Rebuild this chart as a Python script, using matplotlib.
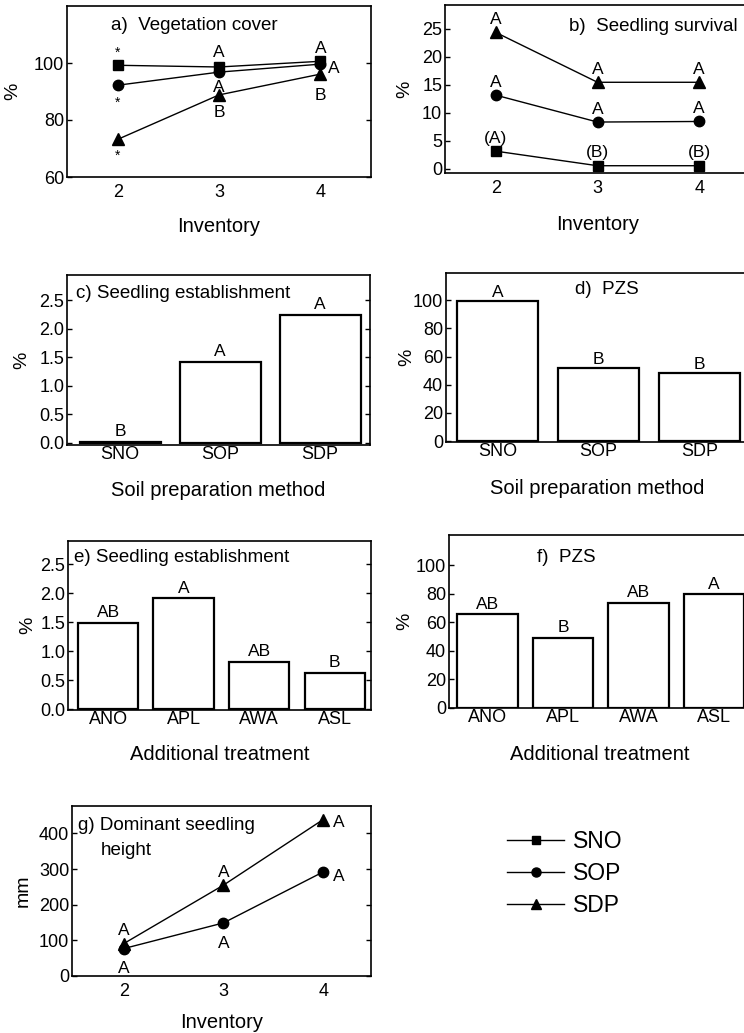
import matplotlib
matplotlib.use("Agg")
import matplotlib.pyplot as plt
from matplotlib.lines import Line2D

plt.rcParams['font.family'] = ['Liberation Sans', 'DejaVu Sans']

W, H = 744, 1033

# --- data ---------------------------------------------------------------
inventory = [2, 3, 4]
series = ['SNO', 'SOP', 'SDP']
markers = {'SNO': 's', 'SOP': 'o', 'SDP': '^'}
msizes = {'SNO': 6.5, 'SOP': 7.5, 'SDP': 8.5}

cover = {'SNO': [99.2, 98.6, 100.6], 'SOP': [92.2, 96.8, 99.6], 'SDP': [73.2, 88.8, 96.1]}
cover_letters = {'SNO': ['*', 'A', 'A'], 'SOP': ['*', 'A', 'A'], 'SDP': ['*', 'B', 'B']}

survival = {'SNO': [3.1, 0.5, 0.5], 'SOP': [13.1, 8.3, 8.4], 'SDP': [24.3, 15.4, 15.4]}
survival_letters = {'SNO': ['(A)', '(B)', '(B)'], 'SOP': ['A', 'A', 'A'], 'SDP': ['A', 'A', 'A']}

soil_methods = ['SNO', 'SOP', 'SDP']
soil_establ = [0.02, 1.42, 2.24]
soil_establ_letters = ['B', 'A', 'A']
soil_pzs = [99.5, 51.8, 48.3]
soil_pzs_letters = ['A', 'B', 'B']

treatments = ['ANO', 'APL', 'AWA', 'ASL']
treat_establ = [1.49, 1.91, 0.82, 0.63]
treat_establ_letters = ['AB', 'A', 'AB', 'B']
treat_pzs = [65.4, 49.0, 73.6, 79.7]
treat_pzs_letters = ['AB', 'B', 'AB', 'A']

height = {'SOP': [77, 149, 292], 'SDP': [91, 255, 439]}
height_letters = {'SOP': ['A', 'A', 'A'], 'SDP': ['A', 'A', 'A']}

fig = plt.figure(figsize=(W / 100, H / 100), dpi=100)


def add_ax(left, top, right, bottom):
    ax = fig.add_axes([left / W, 1 - bottom / H, (right - left) / W, (bottom - top) / H])
    for s in ax.spines.values():
        s.set_linewidth(1.2)
    ax.tick_params(axis='y', direction='in', length=3.5, width=1, right=True,
                   labelsize=13, pad=2)
    ax.tick_params(axis='x', length=0, labelsize=13, pad=5)
    return ax


def px(v):
    return v / 1.389


def set_labels(ax, xlabel, ylabel, xdist, ydist, w, h):
    ax.set_xlabel(xlabel, fontsize=14.5)
    ax.xaxis.label.set_verticalalignment('center')
    ax.xaxis.set_label_coords(0.5, -xdist / h)
    ax.set_ylabel(ylabel, fontsize=14)
    ax.yaxis.label.set_verticalalignment('center')
    ax.yaxis.set_label_coords(-ydist / w, 0.5)


def letter(ax, txt, x, y, dx, dy, size=12.5):
    ax.annotate(txt, (x, y), xytext=(px(dx), px(dy)), textcoords='offset points',
                ha='center', va='center', fontsize=size)


# a) Vegetation cover
ax = add_ax(67, 6, 371, 177)
for s in series:
    ax.plot(inventory, cover[s], color='black', lw=1, marker=markers[s], ms=msizes[s])
offs_a = {'SNO': [(0, 12), (0, 14), (0, 13)],
          'SOP': [(0, -18), (0, -15), (13, -4)],
          'SDP': [(0, -16), (0, -18), (0, -21)]}
for s in series:
    for i, t in enumerate(cover_letters[s]):
        letter(ax, t, inventory[i], cover[s][i], *offs_a[s][i], size=10 if t == '*' else 12.5)
ax.set_xlim(1.5, 4.5)
ax.set_ylim(60, 120)
ax.set_yticks([60, 80, 100])
ax.set_xticks(inventory)
ax.text(0.145, 0.885, 'a)  Vegetation cover', transform=ax.transAxes, fontsize=13.5, va='center')
set_labels(ax, 'Inventory', '%', 50, 54, 304, 171)

# b) Seedling survival
ax = add_ax(445, 5, 750, 173)
for s in series:
    ax.plot(inventory, survival[s], color='black', lw=1, marker=markers[s], ms=msizes[s])
    for i, t in enumerate(survival_letters[s]):
        letter(ax, t, inventory[i], survival[s][i], 0, 13)
ax.set_xlim(1.5, 4.5)
ax.set_ylim(-0.8, 29.2)
ax.set_yticks([0, 5, 10, 15, 20, 25])
ax.set_xticks(inventory)
ax.text(0.405, 0.87, 'b)  Seedling survival', transform=ax.transAxes, fontsize=13.5, va='center')
set_labels(ax, 'Inventory', '%', 51, 40, 305, 168)

# c) Seedling establishment by soil preparation
ax = add_ax(67, 275, 370, 445)
xs = range(len(soil_methods))
ax.bar(xs, soil_establ, width=0.81, color='white', edgecolor='black', linewidth=1.6)
for i, t in enumerate(soil_establ_letters):
    letter(ax, t, i, soil_establ[i], 0, 10)
ax.set_xlim(-0.53, 2.5)
ax.set_ylim(-0.04, 2.94)
ax.set_yticks([0, 0.5, 1.0, 1.5, 2.0, 2.5])
ax.set_yticklabels(['0.0', '0.5', '1.0', '1.5', '2.0', '2.5'])
ax.set_xticks(list(xs))
ax.set_xticklabels(soil_methods)
ax.tick_params(axis='x', pad=1)
ax.text(0.03, 0.89, 'c) Seedling establishment', transform=ax.transAxes, fontsize=13.5, va='center')
set_labels(ax, 'Soil preparation method', '%', 45, 45, 303, 170)

# d) PZS by soil preparation
ax = add_ax(446, 273, 749, 442)
ax.bar(xs, soil_pzs, width=0.8, color='white', edgecolor='black', linewidth=1.6)
for i, t in enumerate(soil_pzs_letters):
    letter(ax, t, i, soil_pzs[i], 0, 9)
ax.set_xlim(-0.51, 2.49)
ax.set_ylim(-0.7, 119.4)
ax.set_yticks([0, 20, 40, 60, 80, 100])
ax.set_xticks(list(xs))
ax.set_xticklabels(soil_methods)
ax.tick_params(axis='x', pad=1)
ax.text(0.425, 0.9, 'd)  PZS', transform=ax.transAxes, fontsize=13.5, va='center')
set_labels(ax, 'Soil preparation method', '%', 46, 39, 303, 169)

# e) Seedling establishment by additional treatment
ax = add_ax(68, 541, 371, 710)
xt = range(len(treatments))
ax.bar(xt, treat_establ, width=0.8, color='white', edgecolor='black', linewidth=1.6)
for i, t in enumerate(treat_establ_letters):
    letter(ax, t, i, treat_establ[i], 0, 10)
ax.set_xlim(-0.53, 3.48)
ax.set_ylim(-0.01, 2.9)
ax.set_yticks([0, 0.5, 1.0, 1.5, 2.0, 2.5])
ax.set_yticklabels(['0.0', '0.5', '1.0', '1.5', '2.0', '2.5'])
ax.set_xticks(list(xt))
ax.set_xticklabels(treatments)
ax.tick_params(axis='x', pad=1)
ax.text(0.02, 0.9, 'e) Seedling establishment', transform=ax.transAxes, fontsize=13.5, va='center')
set_labels(ax, 'Additional treatment', '%', 45, 40, 303, 169)

# f) PZS by additional treatment
ax = add_ax(449, 535, 751, 708)
ax.bar(xt, treat_pzs, width=0.8, color='white', edgecolor='black', linewidth=1.6)
for i, t in enumerate(treat_pzs_letters):
    letter(ax, t, i, treat_pzs[i], 0, 10)
ax.set_xlim(-0.51, 3.49)
ax.set_ylim(0, 121)
ax.set_yticks([0, 20, 40, 60, 80, 100])
ax.set_xticks(list(xt))
ax.set_xticklabels(treatments)
ax.tick_params(axis='x', pad=1)
ax.text(0.29, 0.87, 'f)  PZS', transform=ax.transAxes, fontsize=13.5, va='center')
set_labels(ax, 'Additional treatment', '%', 47, 44, 302, 173)

# g) Dominant seedling height
ax = add_ax(72, 806, 371, 976)
offs_g = {'SOP': [(0, -20), (0, -21), (16, -5)],
          'SDP': [(0, 13), (0, 13), (16, -3)]}
for s in ['SOP', 'SDP']:
    ax.plot(inventory, height[s], color='black', lw=1, marker=markers[s], ms=msizes[s])
    for i, t in enumerate(height_letters[s]):
        letter(ax, t, inventory[i], height[s][i], *offs_g[s][i])
ax.set_xlim(1.48, 4.48)
ax.set_ylim(0, 477)
ax.set_yticks([0, 100, 200, 300, 400])
ax.set_xticks(inventory)
ax.text(0.02, 0.885, 'g) Dominant seedling', transform=ax.transAxes, fontsize=13.5, va='center')
ax.text(0.095, 0.74, 'height', transform=ax.transAxes, fontsize=13.5, va='center')
set_labels(ax, 'Inventory', 'mm', 47, 49, 299, 170)

# legend
handles = [Line2D([], [], color='black', lw=1, marker=markers[s], ms=msizes[s] - 1) for s in series]
fig.legend(handles, series, loc='upper left', bbox_to_anchor=(507 / W, 1 - 830 / H),
           frameon=False, fontsize=16.5, handlelength=2.5, handletextpad=0.4,
           labelspacing=0.4, borderpad=0, borderaxespad=0)

fig.savefig('out.png', dpi=100)
